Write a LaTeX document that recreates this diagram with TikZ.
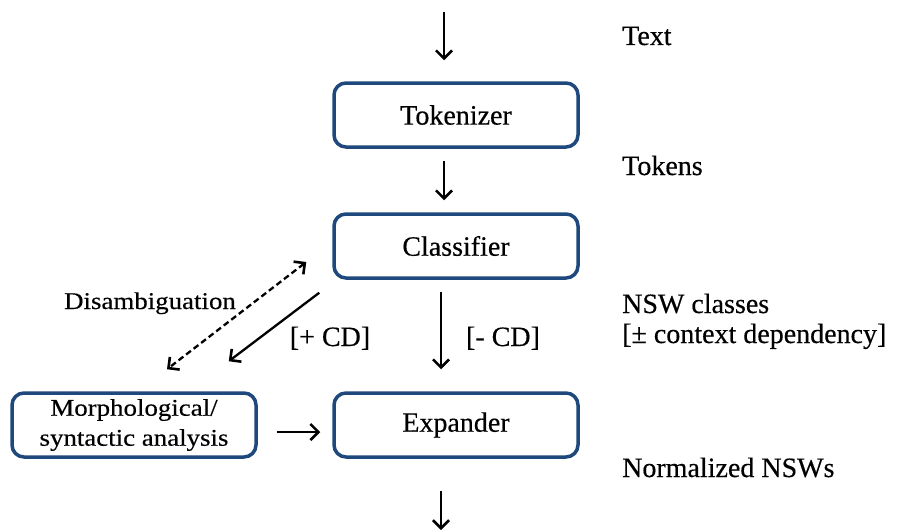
\documentclass[tikz,border=0pt]{standalone}
\usepackage{fontspec}
\setmainfont{Liberation Serif}[FakeBold=0.4]
\newfontfamily\widefont{Liberation Serif}[FakeStretch=1.12,FakeBold=0.4]
\usetikzlibrary{arrows.meta}
\definecolor{boxblue}{RGB}{31,73,125}
\tikzset{
  stage/.style={draw=boxblue, line width=3.5pt, rounded corners=12pt,
    minimum width=244pt, minimum height=64pt, align=center, inner sep=0pt,
    font=\fontsize{28}{30}\selectfont},
  tip/.style={Straight Barb[length=8pt,width=16pt,line width=2.6pt]},
  arr/.style={line width=2.3pt, -{Straight Barb[length=8pt,width=16pt,line width=2.6pt]}},
  note/.style={anchor=base west, inner sep=0pt, font=\fontsize{28}{34}\selectfont, align=left},
  tag/.style={anchor=base, inner sep=0pt, font=\fontsize{28}{30}\selectfont}
}
\begin{document}
\begin{tikzpicture}[x=1pt,y=-1pt]
  \useasboundingbox (0,0) rectangle (898,530);

  % processing stages
  \node[stage] (tok) at (456,115) {Tokenizer};
  \node[stage] (cls) at (456,246) {Classifier};
  \node[stage] (exp) at (456,425) {Expander};
  \node[stage, font=\widefont\fontsize{24}{30}\selectfont] (morph) at (134,425)
    {Morphological/\\syntactic analysis};

  % open ends of the pipeline
  \coordinate (in) at (444,12);
  \coordinate (out) at (441,530);

  % main flow
  \draw[arr, shorten >=21pt] (in) -- (in |- tok.north);
  \draw[arr, shorten <=12pt, shorten >=12pt] ([xshift=-12pt]tok.south) -- ([xshift=-12pt]cls.north);
  \draw[arr, shorten <=12pt, shorten >=22pt] ([xshift=-15pt]cls.south) -- ([xshift=-15pt]exp.north);
  \draw[arr, shorten <=32pt] ([xshift=-15pt]exp.south) -- (out);

  % context-dependent branch
  \draw[arr] ([xshift=-13pt,yshift=-13pt]cls.south west) -- ([xshift=-29pt,yshift=30pt]morph.north east);
  \draw[line width=2.3pt, dash pattern=on 6pt off 3.5pt,
        {Straight Barb[length=8pt,width=16pt,line width=2.6pt]}-{Straight Barb[length=8pt,width=16pt,line width=2.6pt]}]
    ([xshift=-26pt,yshift=-16pt]cls.west) -- ([xshift=33pt,yshift=22pt]morph.north);
  \draw[arr, shorten <=19pt, shorten >=12pt] ([yshift=-7pt]morph.east) -- ([yshift=-7pt]exp.west);

  % branch labels
  \node[tag, font=\widefont\fontsize{24}{30}\selectfont] (dis) at (150,309) {Disambiguation};
  \node[tag] (pcd) at (330,346) {[+ CD]};
  \node[tag] (mcd) at (503,346) {[- CD]};

  % data between the stages
  \node[note] (t1) at (622,45) {Text};
  \node[note] (t2) at (622,175) {Tokens};
  \node[note] (t3) at (622,313) {NSW classes};
  \node[note] (t4) at (622,343) {[± context dependency]};
  \node[note] (t5) at (622,477) {Normalized NSWs};
\end{tikzpicture}
\end{document}
